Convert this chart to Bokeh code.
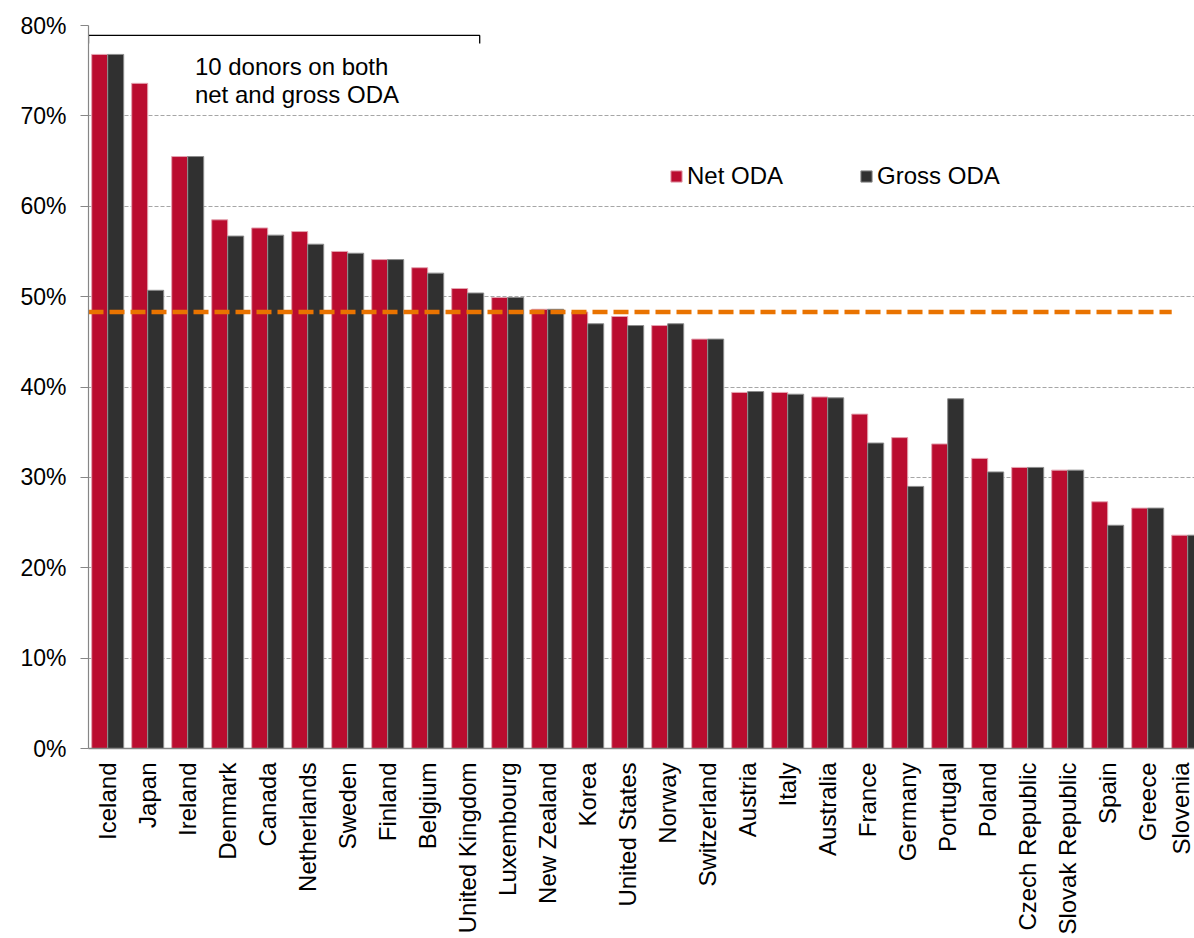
from bokeh.plotting import figure
from bokeh.models import (ColumnDataSource, Range1d, FixedTicker, PrintfTickFormatter,
                          Legend, LegendItem)
from bokeh.embed import file_html
from bokeh.resources import INLINE
from bokeh.core.properties import value
from bokeh.transform import dodge

# ---------------- data ----------------
countries = ["Iceland", "Japan", "Ireland", "Denmark", "Canada", "Netherlands", "Sweden",
             "Finland", "Belgium", "United Kingdom", "Luxembourg", "New Zealand", "Korea",
             "United States", "Norway", "Switzerland", "Austria", "Italy", "Australia",
             "France", "Germany", "Portugal", "Poland", "Czech Republic", "Slovak Republic",
             "Spain", "Greece", "Slovenia"]
net_oda = [76.8, 73.6, 65.5, 58.5, 57.6, 57.2, 55.0, 54.1, 53.2, 50.9, 49.9, 48.6, 48.3,
           47.8, 46.8, 45.3, 39.4, 39.4, 38.9, 37.0, 34.4, 33.7, 32.1, 31.1, 30.8, 27.3,
           26.6, 23.6]
gross_oda = [76.8, 50.7, 65.5, 56.7, 56.8, 55.8, 54.8, 54.1, 52.6, 50.4, 49.9, 48.6, 47.0,
             46.8, 47.0, 45.3, 39.5, 39.2, 38.8, 33.8, 29.0, 38.7, 30.6, 31.1, 30.8, 24.7,
             26.6, 23.6]
average_share = 48.3
y_ticks = [0, 10, 20, 30, 40, 50, 60, 70, 80]
series_labels = ["Net ODA", "Gross ODA"]
annotation_lines = ["10 donors on both", "net and gross ODA"]
n_bracket_donors = 10

# ---------------- styles ----------------
RED = "#BA0C2F"
DARK = "#303030"
ORANGE = "#E97300"
FONT = "Liberation Sans"

idx = list(range(len(countries)))
src = ColumnDataSource(dict(x=idx, net=net_oda, gross=gross_oda))

p = figure(frame_width=1106, frame_height=723,
           x_range=Range1d(-0.48, 27.17), y_range=Range1d(0, 80),
           output_backend="svg", toolbar_location=None,
           min_border_left=88, min_border_right=0, min_border_top=25, min_border_bottom=0)
p.outline_line_color = None
p.background_fill_color = "white"
p.border_fill_color = "white"

# gridlines
p.xgrid.grid_line_color = None
p.ygrid.grid_line_color = "#A6A6A6"
p.ygrid.grid_line_dash = "4 2"
p.ygrid.grid_line_width = 1.2

# bars
r_net = p.vbar(x=dodge("x", -0.2, range=p.x_range), top="net", width=0.4, source=src,
               fill_color=RED, line_color="#E3A3B0", line_width=1)
r_gross = p.vbar(x=dodge("x", 0.2, range=p.x_range), top="gross", width=0.4, source=src,
                 fill_color=DARK, line_color="#8C8C8C", line_width=1)

# average line
p.line(x=[-0.48, idx[-1] - 0.4], y=[average_share, average_share],
       line_color=ORANGE, line_width=4.5, line_dash="15 6")

# bracket annotation
bx0, bx1 = -0.48, n_bracket_donors - 1 + 0.3
btop, bbot = 78.9, 78.0
p.line(x=[bx0, bx0, bx1, bx1], y=[bbot, btop, btop, bbot], line_color="black", line_width=1.3)
p.text(x=[2.18, 2.18], y=[75.45, 72.4], text=annotation_lines,
       text_font=value(FONT), text_font_size="24px", text_color="black",
       text_align="left", text_baseline="alphabetic")

# axes
xa = p.xaxis[0]
xa.ticker = FixedTicker(ticks=idx)
xa.major_label_overrides = {i: c for i, c in enumerate(countries)}
xa.major_label_orientation = 1.5708
xa.major_label_text_font = FONT
xa.major_label_text_font_size = "24px"
xa.major_label_text_color = "black"
xa.major_label_standoff = 14
xa.major_tick_line_color = None
xa.major_tick_out = 0
xa.minor_tick_line_color = None
xa.axis_line_color = "#868686"
xa.axis_line_width = 1.5

ya = p.yaxis[0]
ya.ticker = FixedTicker(ticks=y_ticks)
ya.formatter = PrintfTickFormatter(format="%d%%")
ya.major_label_text_font = FONT
ya.major_label_text_font_size = "23px"
ya.major_label_text_color = "black"
ya.major_label_standoff = 14
ya.major_tick_out = 8
ya.major_tick_in = 0
ya.major_tick_line_color = "#868686"
ya.minor_tick_line_color = None
ya.axis_line_color = "#868686"
ya.axis_line_width = 1.2

# legend
legend = Legend(items=[LegendItem(label=series_labels[0], renderers=[r_net]),
                       LegendItem(label=series_labels[1], renderers=[r_gross])],
                orientation="horizontal", location=(581, 558),
                label_text_font=FONT, label_text_font_size="24px", label_text_color="black",
                glyph_width=14, glyph_height=14, label_standoff=4, spacing=76,
                padding=0, margin=0, border_line_color=None, background_fill_alpha=0,
                label_height=20)
p.add_layout(legend)

open("out.html", "w").write(file_html(p, INLINE))
